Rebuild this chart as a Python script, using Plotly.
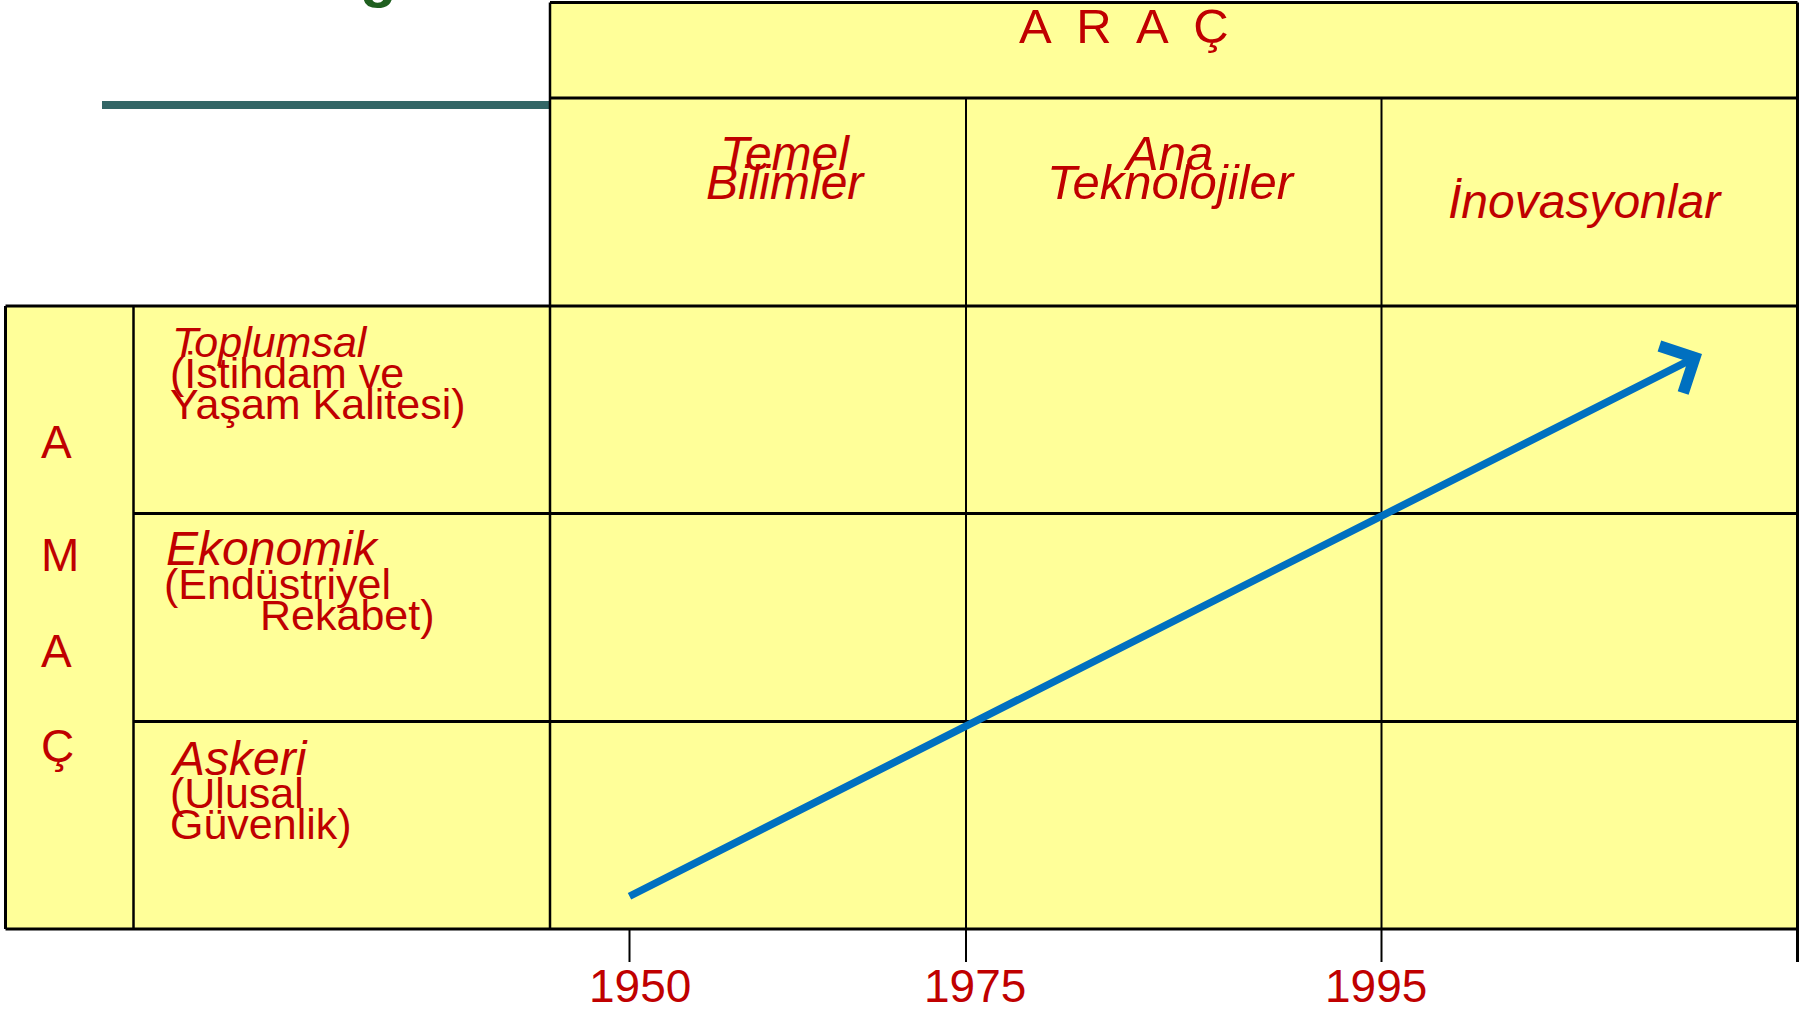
import plotly.graph_objects as go

# ---------------- data (texts) ----------------
top_header = "A  R  A  Ç"
column_headers = [["Temel", "Bilimler"], ["Ana", "Teknolojiler"], ["İnovasyonlar"]]
side_letters = ["A", "M", "A", "Ç"]
row_titles = ["Toplumsal", "Ekonomik", "Askeri"]
row_subtitles = [["(İstihdam ve", "Yaşam Kalitesi)"],
                 ["(Endüstriyel", "Rekabet)"],
                 ["(Ulusal", "Güvenlik)"]]
years = ["1950", "1975", "1995"]
# arrow: from the 1950 tick (Askeri row) to the İnovasyonlar/Toplumsal cell
arrow_from = ("1950", "Askeri")
arrow_to = ("İnovasyonlar", "Toplumsal")

# ---------------- layout geometry (pixels of the 1805x1012 page) ----------------
W, H = 1805, 1012
FILL = "#FFFF99"
RED = "#C00000"
FONT = "Liberation Sans, Arial, sans-serif"

X_LEFT, X_SIDE, X_LABEL = 5.5, 133.5, 550
COL_EDGES = [550, 966, 1381.5, 1797.5]
Y_TOP, Y_HDR, Y_MAIN = 2.5, 98, 306
ROW_EDGES = [306, 513.5, 721.5, 929]
TICK_X = [629.5, 966, 1381.5, 1797.5]
TICK_BOTTOM = 962
YEAR_LABEL_X = [639.5, 975, 1376]
YEAR_BASELINE = 1001.7

hdr_lines_baseline = [[170, 199], [170, 199], [218]]
hdr_centers = [[785, 785.5], [1168, 1171], [1585]]
hdr_sizes = [48, 49, 48]
side_baselines = [458, 571, 667, 762]
title_left = [172, 166, 170]
title_baseline = [357, 565, 775]
title_size = [43, 48, 48]
sub_left = [[170, 170], [164, 260], [170, 170]]
sub_baseline = [[388, 419], [599, 630], [808, 839]]
sub_size = 43

fig = go.Figure()
shapes = []
annotations = []


def line(x0, y0, x1, y1, w=3, color="black"):
    shapes.append(dict(type="line", xref="x", yref="y", x0=x0, y0=y0, x1=x1, y1=y1,
                       line=dict(color=color, width=w), layer="above"))


def text(t, x, baseline, size, italic=False, xanchor="center"):
    annotations.append(dict(
        text=f"<i>{t}</i>" if italic else t, x=x, y=baseline - 0.35 * size,
        xref="x", yref="y", xanchor=xanchor, yanchor="middle", showarrow=False,
        borderpad=0, borderwidth=0,
        font=dict(family=FONT, size=size, color=RED)))


# cell fills
shapes.append(dict(type="rect", xref="x", yref="y", x0=X_LABEL, y0=Y_TOP, x1=COL_EDGES[-1], y1=Y_MAIN,
                   fillcolor=FILL, line=dict(width=0), layer="below"))
shapes.append(dict(type="rect", xref="x", yref="y", x0=X_LEFT, y0=Y_MAIN, x1=COL_EDGES[-1], y1=ROW_EDGES[-1],
                   fillcolor=FILL, line=dict(width=0), layer="below"))

# teal rule of the slide title
line(102, 105, X_LABEL, 105, w=8, color="#336666")

# header block borders
line(X_LABEL, Y_TOP, COL_EDGES[-1], Y_TOP)
line(X_LABEL, Y_HDR, COL_EDGES[-1], Y_HDR)
line(X_LABEL, Y_TOP, X_LABEL, ROW_EDGES[-1], w=2.5)
line(COL_EDGES[-1], Y_TOP, COL_EDGES[-1], TICK_BOTTOM, w=3)
for cx in COL_EDGES[1:-1]:
    line(cx, Y_HDR, cx, ROW_EDGES[-1], w=2)

# main block borders
line(X_LEFT, Y_MAIN, COL_EDGES[-1], Y_MAIN)
line(X_LEFT, ROW_EDGES[-1], COL_EDGES[-1], ROW_EDGES[-1])
line(X_LEFT, Y_MAIN, X_LEFT, ROW_EDGES[-1])
line(X_SIDE, Y_MAIN, X_SIDE, ROW_EDGES[-1], w=2.5)
for ry in ROW_EDGES[1:-1]:
    line(X_SIDE, ry, COL_EDGES[-1], ry)

# ticks under the table
for tx in TICK_X:
    line(tx, ROW_EDGES[-1], tx, TICK_BOTTOM, w=2)

# texts
text(top_header, 1124, 43, 49)
for lines, centers, bases, sz in zip(column_headers, hdr_centers, hdr_lines_baseline, hdr_sizes):
    for t, cx, b in zip(lines, centers, bases):
        text(t, cx, b, sz, italic=True)
for letter, b in zip(side_letters, side_baselines):
    text(letter, 41, b, 46, xanchor="left")
for i, title in enumerate(row_titles):
    text(title, title_left[i], title_baseline[i], title_size[i], italic=True, xanchor="left")
    for t, lx, b in zip(row_subtitles[i], sub_left[i], sub_baseline[i]):
        text(t, lx, b, sub_size, xanchor="left")
for y_lbl, lx in zip(years, YEAR_LABEL_X):
    text(y_lbl, lx, YEAR_BASELINE, 46)

# arrow
start_x = TICK_X[years.index(arrow_from[0])] - 1.5
start_y = ROW_EDGES[row_titles.index(arrow_from[1]) + 1] - 32
end_x = 1702
end_y = ROW_EDGES[row_titles.index(arrow_to[1])] + 48
annotations.append(dict(
    text="", x=end_x, y=end_y, ax=start_x, ay=start_y,
    xref="x", yref="y", axref="x", ayref="y",
    showarrow=True, arrowhead=4, arrowsize=1.35, arrowwidth=7.5, arrowcolor="#0070C0",
    standoff=0, startstandoff=0))

# cut-off slide title glyph
annotations.append(dict(
    text="<b>g</b>", x=378 / W, y=1 + 24 / H, xref="paper", yref="paper",
    xanchor="center", yanchor="middle", showarrow=False,
    font=dict(family=FONT, size=60, color="#1F5F1F")))

fig.update_layout(
    width=W, height=H, margin=dict(l=0, r=0, t=0, b=0, pad=0),
    paper_bgcolor="white", plot_bgcolor="white",
    xaxis=dict(range=[0, W], visible=False, fixedrange=True),
    yaxis=dict(range=[H, 0], visible=False, fixedrange=True),
    shapes=shapes, annotations=annotations, showlegend=False)

fig.write_html("out.html", config={"staticPlot": True},
               post_script="document.body.style.margin='0';document.body.style.overflow='hidden';")
